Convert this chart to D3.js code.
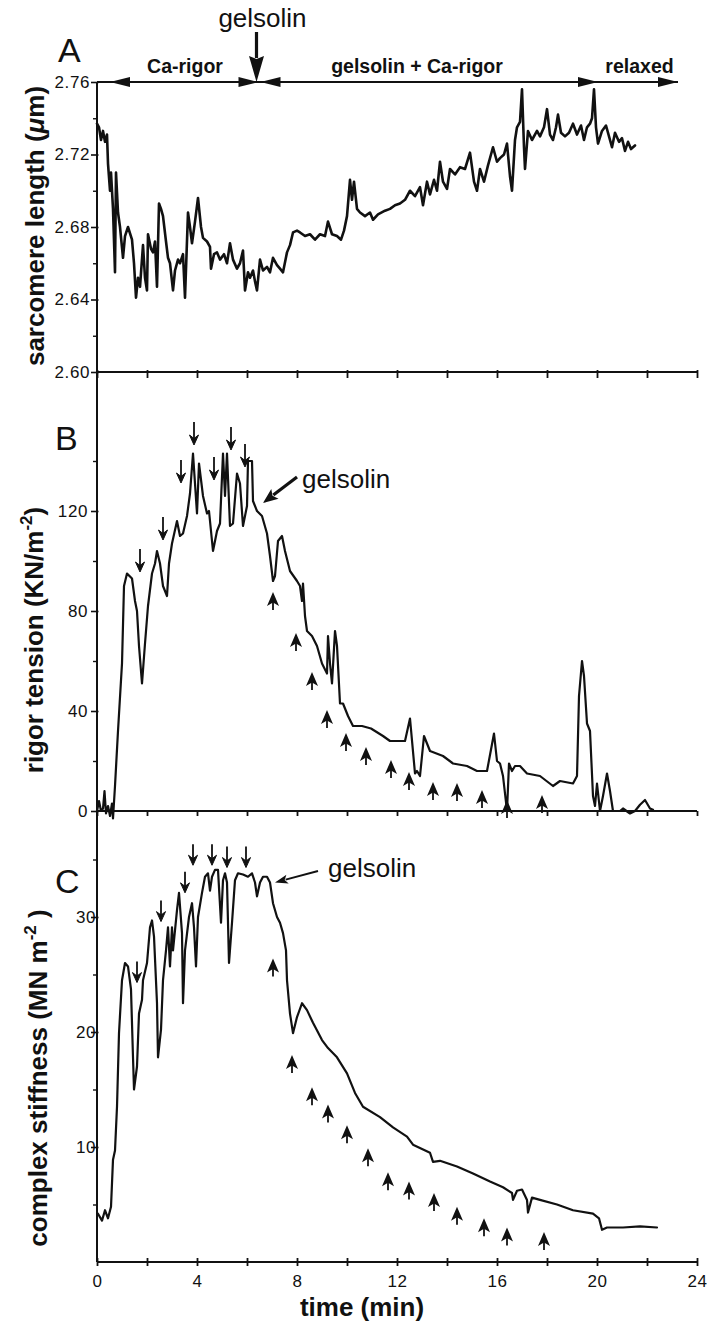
<!DOCTYPE html>
<html>
<head>
<meta charset="utf-8">
<script src="https://cdn.jsdelivr.net/npm/d3@7/dist/d3.min.js"></script>
<style>
  html, body { margin: 0; padding: 0; background: #fff; }
  svg { display: block; font-family: "Liberation Sans", Arial, Helvetica, sans-serif; }
</style>
</head>
<body>
<svg id="fig" width="707" height="1321"></svg>
<script>
// ---- data: time (min) vs. measured value ----
const sarcomereLength = [[0,2.737],[0.08,2.735],[0.16,2.728],[0.24,2.733],[0.32,2.727],[0.4,2.731],[0.44,2.715],[0.52,2.700],[0.56,2.710],[0.64,2.690],[0.72,2.655],[0.76,2.710],[0.84,2.688],[0.92,2.680],[1.04,2.663],[1.12,2.675],[1.24,2.680],[1.4,2.673],[1.48,2.660],[1.56,2.641],[1.64,2.652],[1.72,2.647],[1.84,2.670],[1.92,2.652],[2.0,2.645],[2.04,2.676],[2.16,2.668],[2.24,2.666],[2.32,2.672],[2.4,2.647],[2.48,2.693],[2.56,2.690],[2.64,2.686],[2.76,2.672],[2.84,2.663],[2.92,2.660],[3.04,2.645],[3.12,2.656],[3.24,2.662],[3.32,2.660],[3.44,2.665],[3.52,2.641],[3.64,2.688],[3.72,2.680],[3.8,2.671],[3.92,2.683],[4.04,2.696],[4.16,2.680],[4.24,2.674],[4.4,2.672],[4.52,2.669],[4.56,2.657],[4.68,2.665],[4.8,2.666],[4.92,2.662],[5.08,2.665],[5.2,2.660],[5.32,2.671],[5.44,2.662],[5.6,2.657],[5.72,2.660],[5.84,2.667],[5.92,2.645],[6.04,2.655],[6.12,2.652],[6.24,2.656],[6.32,2.650],[6.4,2.645],[6.52,2.662],[6.64,2.656],[6.8,2.658],[6.92,2.655],[7.04,2.663],[7.2,2.659],[7.32,2.657],[7.44,2.655],[7.6,2.666],[7.72,2.670],[7.84,2.677],[8.0,2.678],[8.12,2.677],[8.32,2.675],[8.52,2.676],[8.72,2.673],[8.92,2.676],[9.12,2.675],[9.24,2.683],[9.4,2.676],[9.6,2.675],[9.76,2.673],[9.88,2.678],[10.0,2.686],[10.12,2.706],[10.2,2.695],[10.28,2.705],[10.4,2.690],[10.52,2.688],[10.72,2.686],[10.92,2.688],[11.04,2.684],[11.24,2.687],[11.52,2.689],[11.72,2.690],[11.92,2.692],[12.12,2.693],[12.32,2.695],[12.52,2.700],[12.72,2.697],[12.92,2.702],[13.04,2.692],[13.2,2.705],[13.32,2.698],[13.48,2.706],[13.6,2.700],[13.72,2.716],[13.84,2.705],[14.0,2.701],[14.12,2.712],[14.32,2.709],[14.52,2.713],[14.72,2.712],[14.92,2.721],[15.08,2.705],[15.2,2.700],[15.32,2.712],[15.48,2.705],[15.64,2.714],[15.84,2.724],[16.0,2.716],[16.12,2.718],[16.28,2.720],[16.4,2.726],[16.52,2.708],[16.6,2.700],[16.72,2.728],[16.8,2.735],[16.92,2.738],[17.0,2.756],[17.08,2.724],[17.12,2.712],[17.24,2.733],[17.4,2.728],[17.6,2.733],[17.72,2.730],[17.88,2.735],[18.0,2.745],[18.12,2.731],[18.24,2.728],[18.36,2.735],[18.44,2.742],[18.56,2.732],[18.72,2.730],[18.88,2.732],[19.04,2.737],[19.2,2.731],[19.36,2.736],[19.48,2.728],[19.6,2.735],[19.72,2.737],[19.8,2.740],[19.88,2.756],[19.96,2.735],[20.04,2.726],[20.2,2.733],[20.36,2.736],[20.48,2.730],[20.6,2.724],[20.72,2.732],[20.88,2.727],[21.0,2.729],[21.12,2.722],[21.24,2.727],[21.36,2.723],[21.52,2.725]];

const rigorTension = [[0,0],[0.08,4],[0.16,0],[0.24,1],[0.3,8],[0.36,-1],[0.44,2],[0.52,-2],[0.6,3],[0.64,-3],[0.72,10],[0.84,32],[1.0,59],[1.08,90],[1.2,95],[1.4,93],[1.52,84],[1.6,80],[1.68,66],[1.8,51],[1.92,67],[2.04,82],[2.2,95],[2.32,99],[2.4,104],[2.52,99],[2.64,90],[2.8,86],[2.88,99],[3.0,107],[3.2,116],[3.32,110],[3.44,111],[3.6,118],[3.72,127],[3.84,143],[4.0,119],[4.08,139],[4.24,126],[4.4,119],[4.48,120],[4.64,104],[4.8,112],[4.92,115],[5.04,143],[5.12,126],[5.2,143],[5.32,114],[5.44,115],[5.6,135],[5.72,131],[5.84,114],[6.0,122],[6.04,140],[6.2,140],[6.24,124],[6.4,120],[6.6,118],[6.8,111],[6.92,102],[7.04,92],[7.12,94],[7.24,108],[7.4,110],[7.52,104],[7.72,96],[8.0,92],[8.12,90],[8.2,84],[8.24,91],[8.32,78],[8.4,72],[8.6,70],[8.8,66],[9.0,59],[9.2,55],[9.24,70],[9.32,59],[9.4,51],[9.52,72],[9.6,66],[9.72,43],[9.84,43],[10.04,38],[10.24,34],[10.6,34],[10.96,33],[11.44,30],[11.72,28],[12.0,28],[12.32,28],[12.52,37],[12.72,15],[12.8,16],[12.92,14],[13.08,30],[13.32,24],[13.84,22],[14.24,19],[14.8,18],[15.2,16],[15.6,16],[15.88,31],[16.0,20],[16.12,19],[16.24,14],[16.4,0],[16.48,19],[16.6,16],[16.72,18],[16.92,18],[17.2,15],[17.72,14],[18.24,10],[18.52,12],[19.04,11],[19.2,14],[19.28,46],[19.4,60],[19.48,54],[19.6,35],[19.72,32],[19.84,6],[19.92,2],[20.0,11],[20.12,0],[20.24,6],[20.4,15],[20.52,8],[20.64,0],[20.92,0],[21.04,1],[21.32,-1],[21.52,0],[21.72,2.5],[21.92,4.4],[22.12,1],[22.24,0.5]];

const complexStiffness = [[0.04,4.2],[0.2,3.6],[0.32,4.5],[0.44,3.8],[0.56,4.8],[0.64,8.9],[0.72,9.7],[0.8,13.5],[0.88,19.9],[1.0,24.5],[1.12,26],[1.24,25.7],[1.36,23.7],[1.44,17.8],[1.48,15],[1.6,17],[1.68,21.6],[1.8,22.8],[1.84,24.5],[2.0,26],[2.12,29.1],[2.2,29.7],[2.28,28.3],[2.4,22.5],[2.44,17.8],[2.56,20.2],[2.64,24.5],[2.76,27.1],[2.84,29.1],[2.92,25.7],[3.0,29.1],[3.04,27.1],[3.2,30.6],[3.28,32.1],[3.4,28.6],[3.44,22.5],[3.52,27.1],[3.68,30],[3.8,31.2],[3.88,29.1],[3.96,25.7],[4.04,30],[4.2,32.1],[4.32,33.5],[4.44,33.8],[4.52,32.3],[4.6,33.5],[4.72,34.1],[4.84,34.1],[4.96,29.5],[5.04,33.2],[5.12,33.8],[5.2,33],[5.28,26],[5.4,29.5],[5.52,33.2],[5.64,33.8],[5.84,33.7],[6.04,33.5],[6.2,33.8],[6.32,33],[6.4,31.8],[6.52,33],[6.64,33.5],[6.8,33.5],[6.92,33],[7.04,31.2],[7.2,30],[7.32,29.5],[7.44,28.6],[7.56,27.1],[7.6,24.5],[7.72,21.6],[7.84,19.9],[8.0,21.3],[8.2,22.5],[8.4,21.9],[8.64,20.8],[9.0,19.3],[9.24,18.6],[9.6,17.8],[10.0,16.4],[10.32,14.7],[10.64,13.5],[11.32,12.6],[11.84,11.7],[12.4,10.9],[12.64,10.2],[13.32,9.5],[13.44,8.7],[13.72,8.8],[14.4,8.3],[15.04,7.7],[15.72,7.0],[16.24,6.5],[16.6,6.0],[16.64,5.4],[16.8,6.2],[17.0,6.3],[17.2,5.4],[17.24,4.3],[17.4,5.6],[17.72,5.4],[18.4,5.0],[19.04,4.5],[19.84,4.2],[20.08,3.8],[20.2,2.8],[20.4,3.0],[21.04,3.0],[21.72,3.1],[22.4,3.0]];

// annotation arrows: [time, value at arrow tip]
const downArrowsB = [[1.72,95.6],[2.64,108.4],[3.36,131.2],[3.88,146.4],[4.68,132.4],[5.36,144.4],[5.92,137.6]];
const upArrowsB = [[7.04,87.6],[7.96,71.2],[8.6,55.6],[9.2,40.4],[9.96,31.2],[10.76,25.6],[11.76,20.4],[12.48,15.6],[13.44,11.6],[14.4,11.2],[15.4,8.4],[16.4,4.4],[17.8,6.4]];
const downArrowsC = [[1.6,24.3],[2.56,29.6],[3.52,32.1],[3.84,34.5],[4.6,34.5],[5.2,34.3],[5.96,34.3]];
const upArrowsC = [[7.04,26.4],[7.8,18.0],[8.6,15.2],[9.24,13.7],[10.0,11.9],[10.84,9.9],[11.64,7.8],[12.48,7.0],[13.48,6.0],[14.4,4.8],[15.48,3.8],[16.4,3.0],[17.88,2.6]];

// tick values
const xTicks = [0,2,4,6,8,10,12,14,16,18,20,22,24];
const xTickLabels = [0,4,8,12,16,20,24];
const yTicksA = [2.60,2.64,2.68,2.72,2.76];
const yMinorA = [2.62,2.66,2.70,2.74];
const yTicksB = [0,40,80,120];
const yMinorB = [20,60,100,140];
const yTicksC = [10,20,30];
const yMinorC = [5,15,25,35];

// protocol phases along the top of panel A
const phaseLabels = ["Ca-rigor", "gelsolin + Ca-rigor", "relaxed"];
const gelsolinTime = 6.5;

// ---- layout ----
const svg = d3.select("#fig");
svg.append("rect").attr("width", 707).attr("height", 1321).attr("fill", "#fff");

const x = d3.scaleLinear([0, 24], [97, 697]);
const yA = d3.scaleLinear([2.60, 2.76], [372, 82]);
const yB = d3.scaleLinear([0, 160], [811, 411]);
const yC = d3.scaleLinear([0, 35], [1262, 859.5]);

const ink = "#111";

// continuous left spine through all three panels
svg.append("line").attr("x1", 97).attr("x2", 97).attr("y1", yA(2.76)).attr("y2", yC(0))
  .attr("stroke", ink).attr("stroke-width", 2);

function leftAxis(scale, major, minor, fmt, labelX) {
  const g = svg.append("g").attr("transform", "translate(97,0)");
  g.call(d3.axisLeft(scale).tickValues(major).tickSize(6).tickFormat(fmt));
  g.select(".domain").remove();
  g.selectAll(".tick line").attr("stroke", ink).attr("stroke-width", 1.6).attr("x1", 1.5);
  g.selectAll(".tick text").attr("x", labelX).attr("fill", ink)
    .style("font-size", "17px").style("letter-spacing", "0.6px")
    .style("font-family", "'Liberation Sans', Arial, sans-serif");
  const m = svg.append("g").attr("transform", "translate(97,0)");
  m.call(d3.axisLeft(scale).tickValues(minor).tickSize(4).tickFormat(""));
  m.select(".domain").remove();
  m.selectAll(".tick line").attr("stroke", ink).attr("stroke-width", 1.4);
}
leftAxis(yA, yTicksA, yMinorA, d3.format(".2f"), -7);
leftAxis(yB, yTicksB, yMinorB, d3.format("d"), -9);
leftAxis(yC, yTicksC, yMinorC, d3.format("d"), -1);

function bottomAxis(yPos, up, down, labels) {
  const g = svg.append("g").attr("transform", `translate(0,${yPos})`);
  g.call(d3.axisBottom(x).tickValues(xTicks).tickSize(down)
    .tickFormat(d => labels && xTickLabels.includes(d) ? d : ""));
  g.select(".domain").attr("stroke", ink).attr("stroke-width", 2).attr("d", `M97,0H697`);
  g.selectAll(".tick line").attr("stroke", ink).attr("stroke-width", 1.8).attr("y1", -up);
  g.selectAll(".tick text").attr("y", 25).attr("dy", 0).attr("fill", ink)
    .style("font-size", "17px").style("letter-spacing", "0.6px")
    .style("font-family", "'Liberation Sans', Arial, sans-serif");
}
bottomAxis(yA(2.60), 2, 6, false);
bottomAxis(yB(0), 0, 5, false);
bottomAxis(yC(0), 4, 4, true);

// ---- traces ----
function trace(data, yScale, w) {
  svg.append("path").datum(data)
    .attr("d", d3.line().x(d => x(d[0])).y(d => yScale(d[1])))
    .attr("fill", "none").attr("stroke", ink).attr("stroke-width", w)
    .attr("stroke-linejoin", "round").attr("stroke-linecap", "round");
}
trace(sarcomereLength, yA, 2.6);
trace(rigorTension, yB, 2.2);
trace(complexStiffness, yC, 2.2);

// ---- annotation arrows ----
function downArrow(t, v, yScale, len) {
  const px = x(t), py = yScale(v);
  svg.append("line").attr("x1", px).attr("x2", px).attr("y1", py - len).attr("y2", py - 3)
    .attr("stroke", ink).attr("stroke-width", 1.8);
  svg.append("path").attr("d", `M${px},${py} L${px - 4.5},${py - 10} L${px},${py - 6.5} L${px + 4.5},${py - 10} Z`)
    .attr("fill", ink).attr("stroke", ink).attr("stroke-width", 1).attr("stroke-linejoin", "round");
}
function upHead(t, v, yScale) {
  const px = x(t), py = yScale(v);
  svg.append("path").attr("d", `M${px},${py} L${px + 6},${py + 14} L${px},${py + 10.5} L${px - 6},${py + 14} Z`)
    .attr("fill", ink);
  svg.append("line").attr("x1", px).attr("x2", px).attr("y1", py + 9).attr("y2", py + 18)
    .attr("stroke", ink).attr("stroke-width", 1.8);
}
downArrowsB.forEach(d => downArrow(d[0], d[1], yB, 23));
upArrowsB.forEach(d => upHead(d[0], d[1], yB));
downArrowsC.forEach(d => downArrow(d[0], d[1], yC, 21));
upArrowsC.forEach(d => upHead(d[0], d[1], yC));

// filled-head pointer arrow from (x1,y1) to tip (x2,y2)
function pointer(x1, y1, x2, y2, w, headLen, headHalf) {
  const ang = Math.atan2(y2 - y1, x2 - x1);
  const bx = x2 - headLen * Math.cos(ang), by = y2 - headLen * Math.sin(ang);
  svg.append("line").attr("x1", x1).attr("y1", y1).attr("x2", bx + 2 * Math.cos(ang)).attr("y2", by + 2 * Math.sin(ang))
    .attr("stroke", ink).attr("stroke-width", w);
  const nx = -Math.sin(ang), ny = Math.cos(ang);
  svg.append("path").attr("d",
    `M${x2},${y2} L${bx + nx * headHalf},${by + ny * headHalf} L${bx + 3 * Math.cos(ang)},${by + 3 * Math.sin(ang)} L${bx - nx * headHalf},${by - ny * headHalf} Z`)
    .attr("fill", ink);
}

// ---- panel A protocol bar ----
const barY = yA(2.76);
svg.append("line").attr("x1", x(0)).attr("x2", x(23.24)).attr("y1", barY).attr("y2", barY)
  .attr("stroke", ink).attr("stroke-width", 2);
function barHead(tTip, dir) {
  const tx = x(tTip), bx = tx - dir * 20;
  svg.append("path").attr("d", `M${tx},${barY} L${bx},${barY - 5} L${bx},${barY + 5} Z`).attr("fill", ink);
}
barHead(0.52, -1);
barHead(6.46, 1);
barHead(6.54, -1);
barHead(20.04, 1);
barHead(23.24, 1);

const phaseX = [3.52, 12.8, 21.7];
phaseLabels.forEach((s, i) => {
  svg.append("text").attr("x", x(phaseX[i])).attr("y", 73).attr("text-anchor", "middle")
    .attr("fill", ink).style("font-size", "19.5px").style("font-weight", "bold").text(s);
});

// gelsolin addition marker
pointer(x(gelsolinTime) - 3, 32, x(gelsolinTime) - 3, barY, 3.2, 26, 7.5);
svg.append("text").attr("x", x(gelsolinTime) + 3).attr("y", 27).attr("text-anchor", "middle")
  .attr("fill", ink).style("font-size", "26px").text("gelsolin");

// gelsolin labels in B and C
pointer(x(8.0), yB(133.6), x(6.64), yB(123.2), 3.2, 15, 6);
svg.append("text").attr("x", x(8.2)).attr("y", yB(129.2)).attr("fill", ink)
  .style("font-size", "26px").text("gelsolin");
pointer(x(8.84), yC(34.0), x(7.12), yC(33.0), 2, 13, 4.5);
svg.append("text").attr("x", x(9.24)).attr("y", yC(33.5)).attr("fill", ink)
  .style("font-size", "26px").text("gelsolin");

// ---- panel letters ----
[["A", 58, 62], ["B", 55, 450], ["C", 55, 893]].forEach(([s, px, py]) => {
  svg.append("text").attr("x", px).attr("y", py).attr("fill", ink)
    .style("font-size", "34px").text(s);
});

// ---- axis titles ----
function yTitle(cx, cy, build) {
  const t = svg.append("text").attr("transform", `translate(${cx},${cy}) rotate(-90)`)
    .attr("text-anchor", "middle").attr("fill", ink)
    .style("font-size", "26px").style("font-weight", "bold");
  build(t);
}
yTitle(44, 226, t => {
  t.append("tspan").text("sarcomere length (");
  t.append("tspan").style("font-style", "italic").text("\u03bc");
  t.append("tspan").text("m)");
});
yTitle(43, 640, t => {
  t.append("tspan").text("rigor tension (KN/m");
  t.append("tspan").attr("dy", -11).style("font-size", "17px").text("-2");
  t.append("tspan").attr("dy", 11).text(")");
});
yTitle(47, 1078, t => {
  t.append("tspan").text("complex stiffness (MN m");
  t.append("tspan").attr("dy", -11).style("font-size", "17px").text("-2");
  t.append("tspan").attr("dy", 11).text(" )");
});

svg.append("text").attr("x", 362).attr("y", 1316).attr("text-anchor", "middle")
  .attr("fill", ink).style("font-size", "26px").style("font-weight", "bold").text("time (min)");
</script>
</body>
</html>
